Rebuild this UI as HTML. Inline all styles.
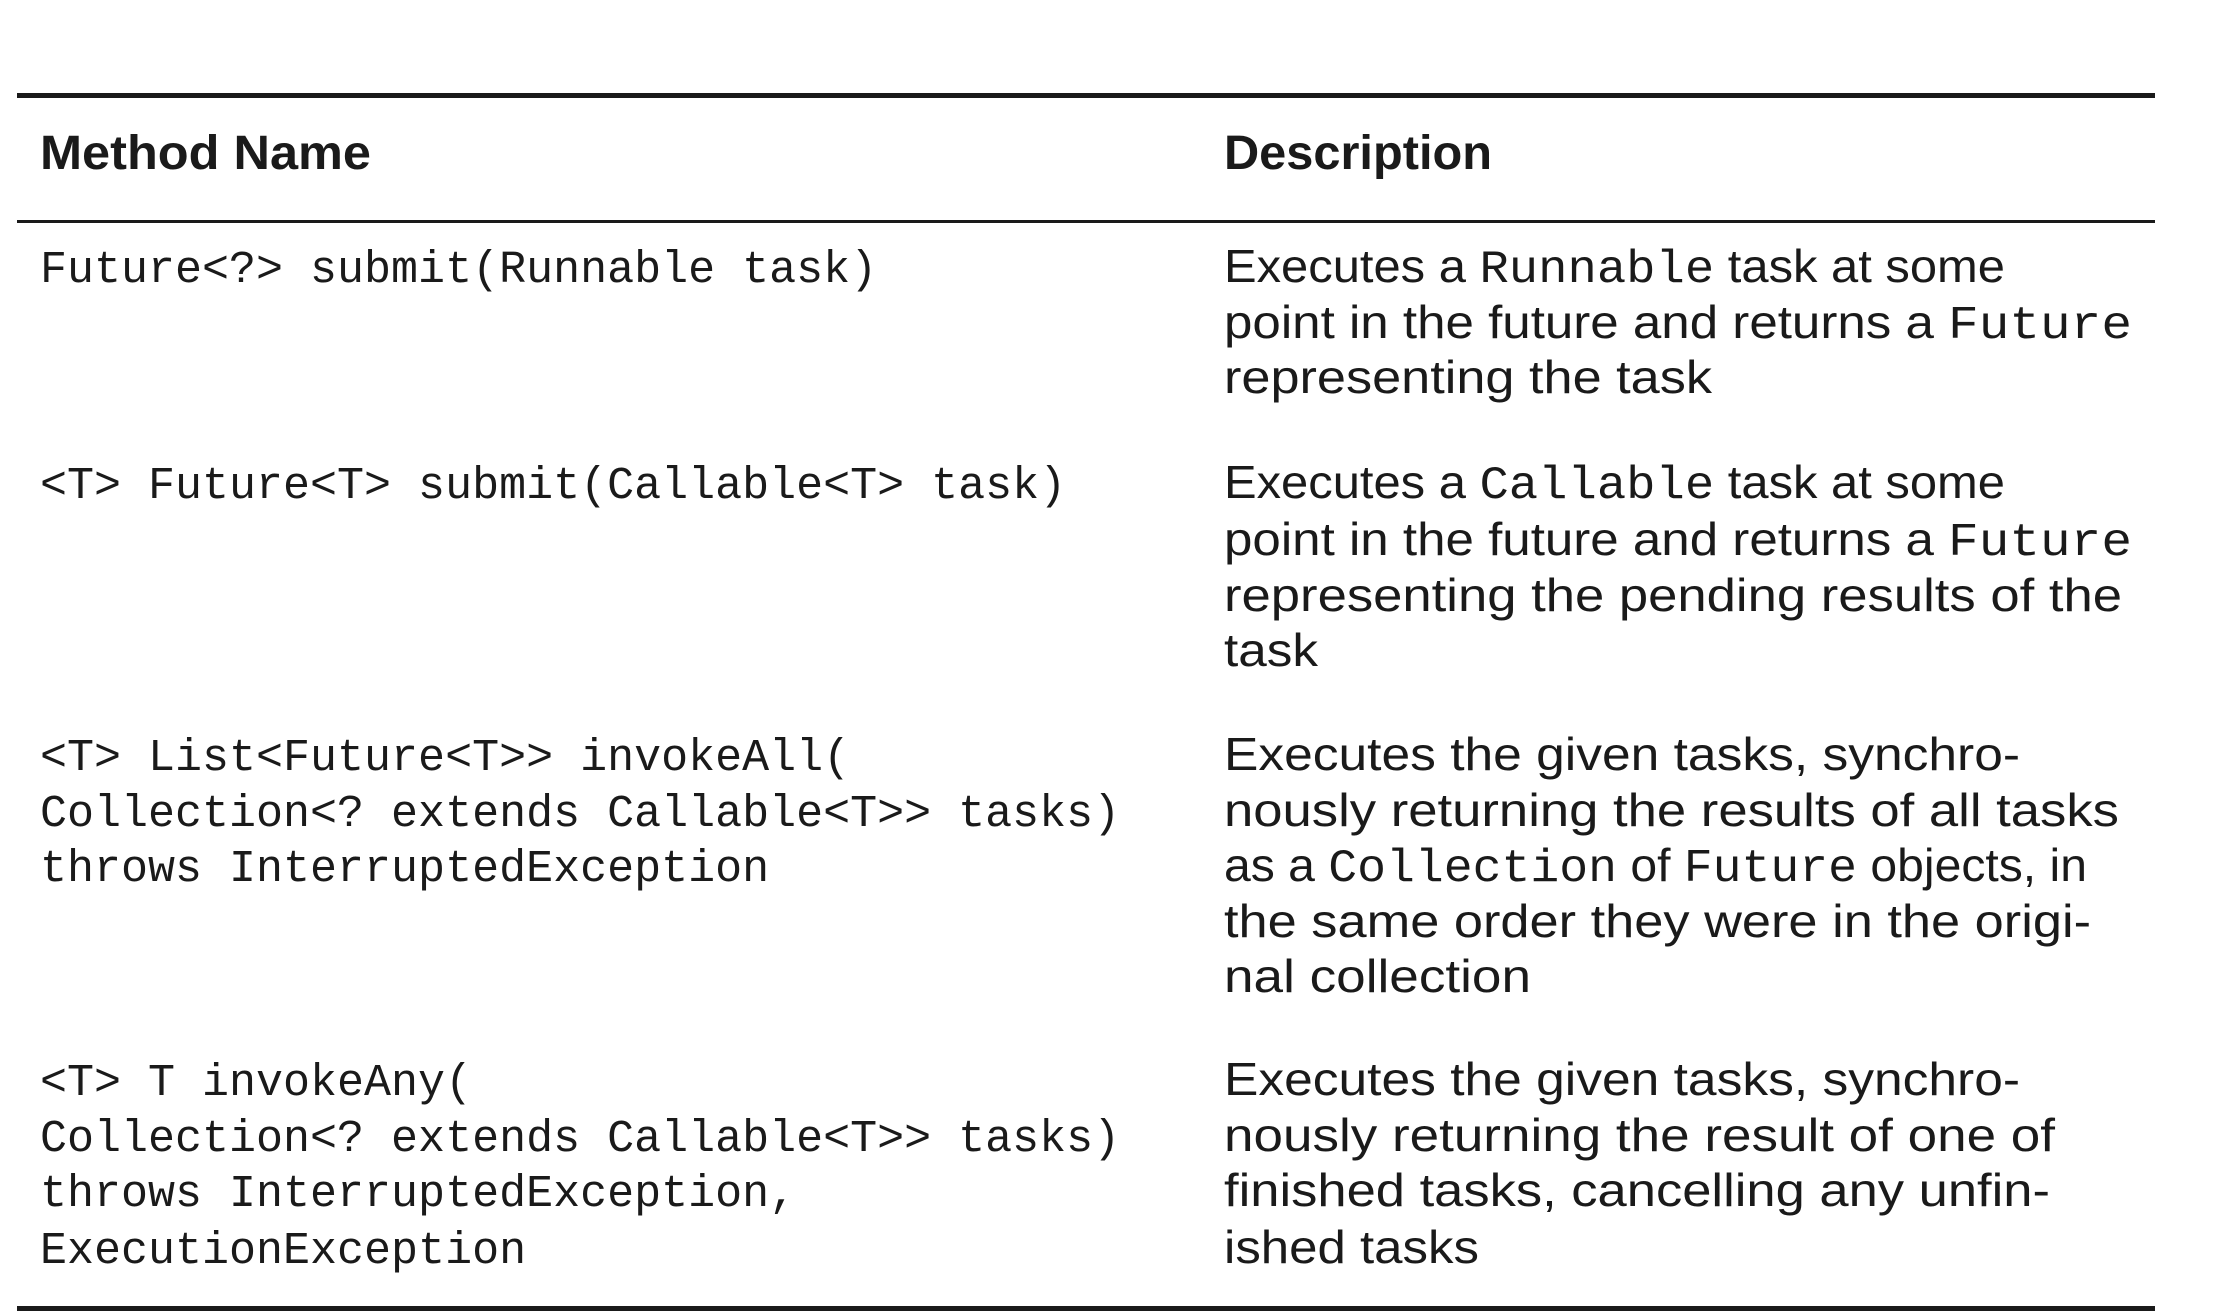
<!DOCTYPE html>
<html>
<head>
<meta charset="utf-8">
<style>
html,body{margin:0;padding:0;background:#fff;}
svg{display:block;}
.h{font-family:"Liberation Sans",sans-serif;font-weight:bold;font-size:48px;fill:#1a1a1a;}
.m{font-family:"Liberation Mono",monospace;font-size:45px;fill:#1a1a1a;}
.d{font-family:"Liberation Sans",sans-serif;font-size:46px;fill:#1a1a1a;}
.d tspan.c{font-family:"Liberation Mono",monospace;}
</style>
</head>
<body>
<svg width="2236" height="1316" viewBox="0 0 2236 1316">
  <rect x="17" y="93" width="2138" height="5" fill="#1a1a1a"/>
  <rect x="17" y="220" width="2138" height="3" fill="#1a1a1a"/>
  <rect x="17" y="1306" width="2138" height="5" fill="#1a1a1a"/>

  <text class="h" x="40" y="169" textLength="331" lengthAdjust="spacingAndGlyphs">Method Name</text>
  <text class="h" x="1224" y="169" textLength="268" lengthAdjust="spacingAndGlyphs">Description</text>

  <g>
    <text class="m" x="40" y="282">Future&lt;?&gt; submit(Runnable task)</text>
    <g>
      <text class="d" x="1224" y="282" textLength="781" lengthAdjust="spacingAndGlyphs">Executes a <tspan class="c">Runnable</tspan> task at some</text>
      <text class="d" x="1224" y="338" textLength="908" lengthAdjust="spacingAndGlyphs">point in the future and returns a <tspan class="c">Future</tspan></text>
      <text class="d" x="1224" y="393" textLength="488" lengthAdjust="spacingAndGlyphs">representing the task</text>
    </g>
  </g>

  <g>
    <text class="m" x="40" y="498">&lt;T&gt; Future&lt;T&gt; submit(Callable&lt;T&gt; task)</text>
    <g>
      <text class="d" x="1224" y="498" textLength="781" lengthAdjust="spacingAndGlyphs">Executes a <tspan class="c">Callable</tspan> task at some</text>
      <text class="d" x="1224" y="555" textLength="908" lengthAdjust="spacingAndGlyphs">point in the future and returns a <tspan class="c">Future</tspan></text>
      <text class="d" x="1224" y="611" textLength="898" lengthAdjust="spacingAndGlyphs">representing the pending results of the</text>
      <text class="d" x="1224" y="666" textLength="94" lengthAdjust="spacingAndGlyphs">task</text>
    </g>
  </g>

  <g>
    <g>
      <text class="m" x="40" y="770">&lt;T&gt; List&lt;Future&lt;T&gt;&gt; invokeAll(</text>
      <text class="m" x="40" y="826">Collection&lt;? extends Callable&lt;T&gt;&gt; tasks)</text>
      <text class="m" x="40" y="881">throws InterruptedException</text>
    </g>
    <g>
      <text class="d" x="1224" y="770" textLength="796" lengthAdjust="spacingAndGlyphs">Executes the given tasks, synchro-</text>
      <text class="d" x="1224" y="826" textLength="895" lengthAdjust="spacingAndGlyphs">nously returning the results of all tasks</text>
      <text class="d" x="1224" y="881" textLength="863" lengthAdjust="spacingAndGlyphs">as a <tspan class="c">Collection</tspan> of <tspan class="c">Future</tspan> objects, in</text>
      <text class="d" x="1224" y="937" textLength="867" lengthAdjust="spacingAndGlyphs">the same order they were in the origi-</text>
      <text class="d" x="1224" y="992" textLength="307" lengthAdjust="spacingAndGlyphs">nal collection</text>
    </g>
  </g>

  <g>
    <g>
      <text class="m" x="40" y="1095">&lt;T&gt; T invokeAny(</text>
      <text class="m" x="40" y="1151">Collection&lt;? extends Callable&lt;T&gt;&gt; tasks)</text>
      <text class="m" x="40" y="1206">throws InterruptedException,</text>
      <text class="m" x="40" y="1263">ExecutionException</text>
    </g>
    <g>
      <text class="d" x="1224" y="1095" textLength="796" lengthAdjust="spacingAndGlyphs">Executes the given tasks, synchro-</text>
      <text class="d" x="1224" y="1151" textLength="831" lengthAdjust="spacingAndGlyphs">nously returning the result of one of</text>
      <text class="d" x="1224" y="1206" textLength="826" lengthAdjust="spacingAndGlyphs">finished tasks, cancelling any unfin-</text>
      <text class="d" x="1224" y="1263" textLength="255" lengthAdjust="spacingAndGlyphs">ished tasks</text>
    </g>
  </g>
</svg>
</body>
</html>
